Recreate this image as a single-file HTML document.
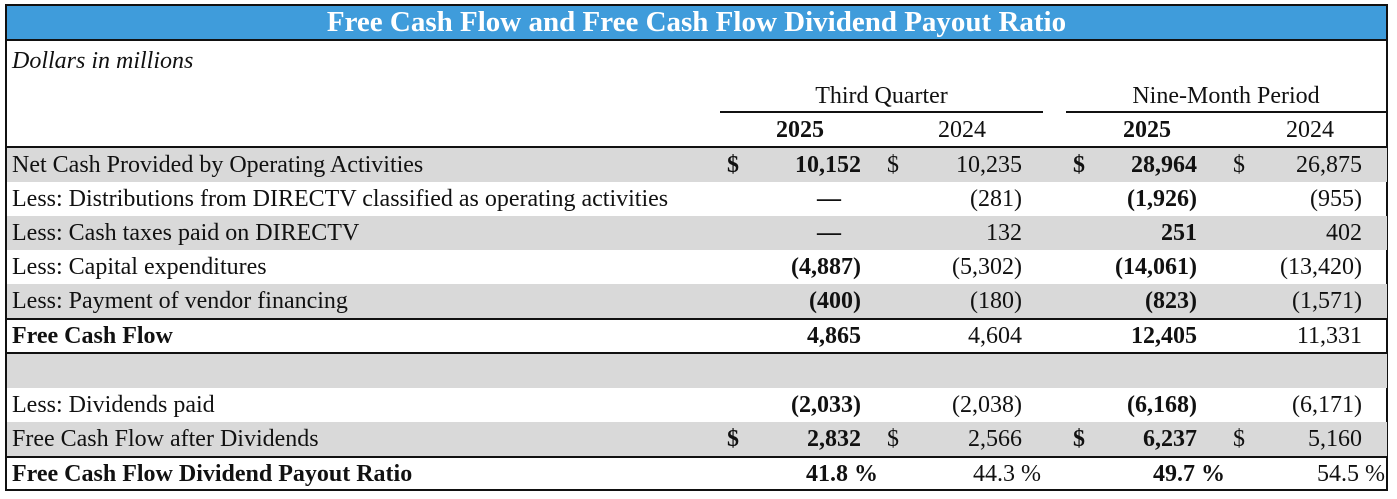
<!DOCTYPE html>
<html><head><meta charset="utf-8"><style>
body{margin:0;background:#fff;width:1397px;height:499px;position:relative;font-family:"Liberation Serif",serif;font-size:24px;color:#111;overflow:hidden}
.a{position:absolute;white-space:nowrap;line-height:34px}
.r{position:absolute;left:7px;width:1380px;height:34px}
.g{background:#d9d9d9}
.h{position:absolute;background:#111}
</style></head><body>
<div class="a" style="left:6px;top:4px;width:1381px;height:35px;background:#3f9cdb;color:#fff;font-weight:bold;font-size:29px;text-align:center;line-height:37px">Free Cash Flow and Free Cash Flow Dividend Payout Ratio</div>
<div class="h" style="left:5px;top:4px;width:2px;height:487px"></div>
<div class="h" style="left:1386px;top:4px;width:2px;height:487px"></div>
<div class="h" style="left:5px;top:4px;width:1383px;height:2px"></div>
<div class="h" style="left:5px;top:39px;width:1383px;height:2px"></div>
<div class="h" style="left:5px;top:489px;width:1383px;height:2px"></div>
<div class="a" style="left:12px;top:44px;font-style:italic">Dollars in millions</div>
<div class="a" style="left:720px;width:323px;top:79px;text-align:center">Third Quarter</div>
<div class="a" style="left:1066px;width:320px;top:79px;text-align:center">Nine-Month Period</div>
<div class="h" style="left:720px;top:111px;width:323px;height:2px"></div>
<div class="h" style="left:1066px;top:111px;width:320px;height:2px"></div>
<div class="a" style="left:760px;width:80px;top:113px;text-align:center;font-weight:bold">2025</div>
<div class="a" style="left:922px;width:80px;top:113px;text-align:center">2024</div>
<div class="a" style="left:1107px;width:80px;top:113px;text-align:center;font-weight:bold">2025</div>
<div class="a" style="left:1270px;width:80px;top:113px;text-align:center">2024</div>
<div class="h" style="left:5px;top:146px;width:1383px;height:2px"></div>

<div class="r g" style="top:148px"></div>
<div class="r g" style="top:216px"></div>
<div class="r g" style="top:284px"></div>
<div class="r g" style="top:353px;height:35px"></div>
<div class="r g" style="top:422px"></div>
<div class="h" style="left:5px;top:318px;width:1383px;height:2px"></div>
<div class="h" style="left:5px;top:352px;width:1383px;height:2px"></div>
<div class="h" style="left:5px;top:456px;width:1383px;height:2px"></div>

<div id="rows"></div>
<script>
var rows=[
[148,"Net Cash Provided by Operating Activities",0,["10,152","10,235","28,964","26,875"],1],
[182,"Less: Distributions from DIRECTV classified as operating activities",0,["—","(281)","(1,926)","(955)"],0],
[216,"Less: Cash taxes paid on DIRECTV",0,["—","132","251","402"],0],
[250,"Less: Capital expenditures",0,["(4,887)","(5,302)","(14,061)","(13,420)"],0],
[284,"Less: Payment of vendor financing",0,["(400)","(180)","(823)","(1,571)"],0],
[319,"Free Cash Flow",1,["4,865","4,604","12,405","11,331"],0],
[388,"Less: Dividends paid",0,["(2,033)","(2,038)","(6,168)","(6,171)"],0],
[422,"Free Cash Flow after Dividends",0,["2,832","2,566","6,237","5,160"],1],
[457,"Free Cash Flow Dividend Payout Ratio",1,["41.8 %","44.3 %","49.7 %","54.5 %"],0]
];
var rt=[861,1022,1197,1362],ds=[727,887,1073,1233],h="";
rows.forEach(function(r){
 h+='<div class="a" style="left:12px;top:'+r[0]+'px;'+(r[2]?'font-weight:bold':'')+'">'+r[1]+'</div>';
 r[3].forEach(function(v,i){
  var bold=(i%2==0);var right=rt[i];
  if(v.indexOf('%')>0){right=[878,1041,1225,1385][i];}
  if(v=="—"){h+='<div class="a" style="left:'+(right-52)+'px;width:40px;text-align:center;top:'+r[0]+'px;font-weight:bold">—</div>';return;}
  h+='<div class="a" style="right:'+(1397-right)+'px;top:'+r[0]+'px;'+(bold?'font-weight:bold':'')+'">'+v+'</div>';
  if(r[4])h+='<div class="a" style="left:'+ds[i]+'px;top:'+r[0]+'px;'+(bold?'font-weight:bold':'')+'">$</div>';
 });
});
document.getElementById('rows').innerHTML=h;
</script>
</body></html>
